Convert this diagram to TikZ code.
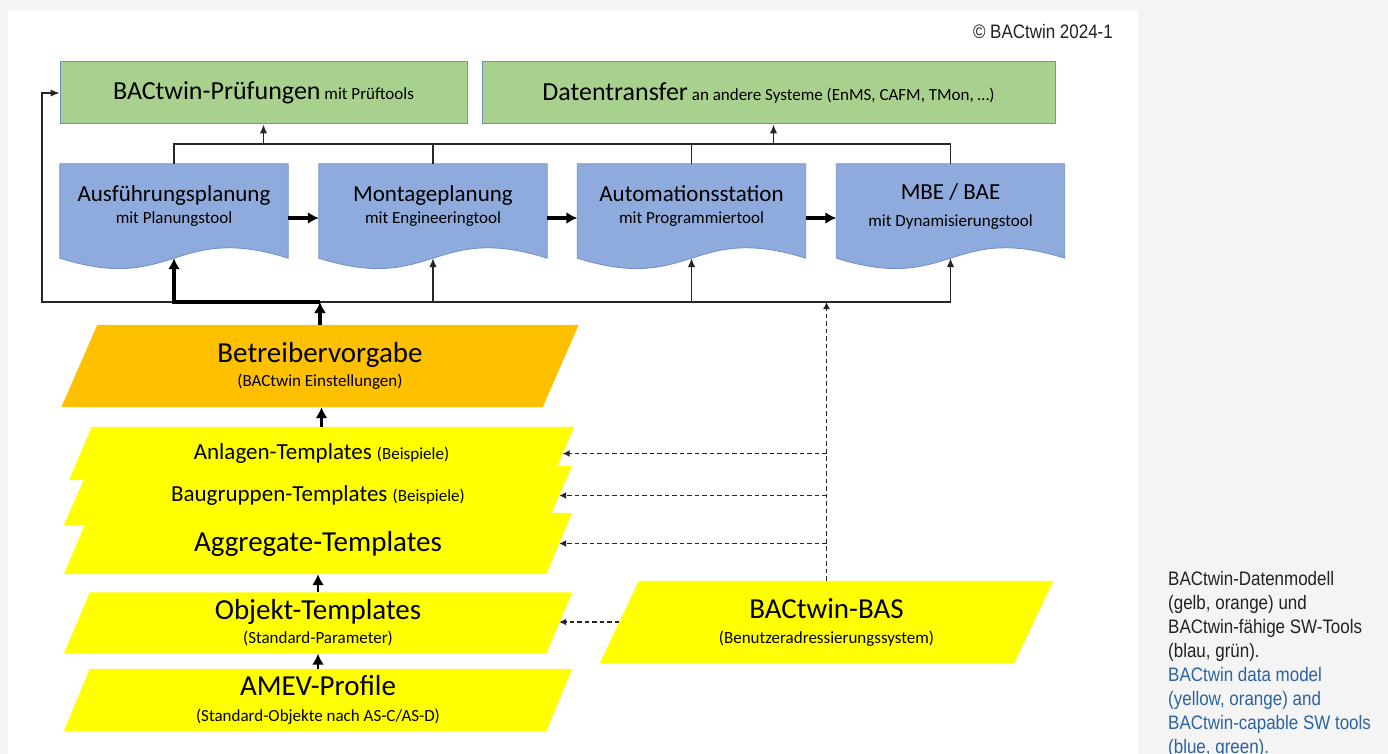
\documentclass[tikz,border=0pt]{standalone}
\usepackage{fontspec}
\setmainfont{Carlito}
\newfontfamily\notefont[FakeStretch=0.87]{Liberation Sans}
\usetikzlibrary{arrows.meta,positioning}

\definecolor{toolgreen}{HTML}{A9D18E}
\definecolor{toolblue}{HTML}{8FAADC}
\definecolor{toolrim}{HTML}{6F8FCB}
\definecolor{modelorange}{HTML}{FFC000}
\definecolor{modelyellow}{HTML}{FFFF00}
\definecolor{pagegray}{HTML}{F4F4F4}
\definecolor{notegray}{HTML}{222222}
\definecolor{noteblue}{HTML}{2B63A3}
\definecolor{wire}{HTML}{262626}

\newcommand{\sizeXL}{\fontsize{29}{32}\selectfont}
\newcommand{\sizeL}{\fontsize{26}{30}\selectfont}
\newcommand{\sizeM}{\fontsize{23}{27}\selectfont}
\newcommand{\sizeS}{\fontsize{17}{20}\selectfont}

\pgfdeclarelayer{paper}
\pgfdeclarelayer{shapes}
\pgfsetlayers{paper,shapes,main}

\tikzset{
  greenbox/.style={draw=toolrim, fill=toolgreen, line width=1pt, inner sep=0pt, font=\sizeS},
  docbox/.style={minimum width=228pt, minimum height=84pt, inner sep=0pt, align=center, font=\sizeM},
  docshape/.style={draw=toolrim, fill=toolblue, line width=0.8pt},
  para/.style={inner sep=0pt, align=center, font=\sizeXL},
  note/.style={inner sep=0pt, font=\notefont\fontsize{19.5}{24}\selectfont, text=notegray},
  wire/.style={draw=wire, line width=1.4pt, >={Latex[length=9pt,width=7.5pt]}},
  heavy/.style={draw=black, line width=3.4pt, >={Latex[length=11pt,width=12pt]}},
  dashwire/.style={wire, line width=1.6pt, dash pattern=on 4.5pt off 3pt, >={Latex[length=7pt,width=7pt]}}
}

\begin{document}
\begin{tikzpicture}[x=1pt, y=-1pt]
    \useasboundingbox (0,0) rectangle (1388,754);
    \clip (0,0) rectangle (1388,754);

    \node[greenbox, minimum width=407pt, minimum height=62pt] (pruef) at (263.5,93) {{\sizeL BACtwin-Prüfungen} mit Prüftools};
    \node[greenbox, minimum width=573pt, minimum height=62pt] (transfer) at (768.5,93) {{\sizeL Datentransfer} an andere Systeme (EnMS, CAFM, TMon, \dots)};

    \node[docbox] (ausf) at (174,206) {Ausführungsplanung\\[-5pt]{\sizeS mit Planungstool}};
    \node[docbox] (montage) at (433,206) {Montageplanung\\[-5pt]{\sizeS mit Engineeringtool}};
    \node[docbox] (autom) at (691.5,206) {Automationsstation\\[-5pt]{\sizeS mit Programmiertool}};
    \node[docbox] (mbe) at (950.5,206) {MBE / BAE\\[0pt]{\sizeS mit Dynamisierungstool}};

    \node[para, minimum width=481pt, minimum height=82pt] (betr) at (320,366) {Betreibervorgabe\\[-8pt]{\sizeS (BACtwin Einstellungen)}};
    \node[para, minimum width=482pt, minimum height=53pt, font=\sizeM] (anlagen) at (321.5,453.5) {Anlagen-Templates {\sizeS (Beispiele)}};
    \node[para, minimum width=482pt, minimum height=59pt, font=\sizeM] (baug) at (318,495.5) {Baugruppen-Templates {\sizeS (Beispiele)}};
    \node[para, minimum width=482pt, minimum height=61pt] (aggr) at (318,543.5) {Aggregate-Templates};
    \node[para, minimum width=482pt, minimum height=61pt] (objekt) at (318,623) {Objekt-Templates\\[-8pt]{\sizeS (Standard-Parameter)}};
    \node[para, minimum width=482pt, minimum height=62pt] (amev) at (318,700) {AMEV-Profile\\[-6pt]{\sizeS (Standard-Objekte nach AS-C/AS-D)}};
    \node[para, minimum width=414pt, minimum height=82pt] (bas) at (826.5,622) {BACtwin-BAS\\[-7pt]{\sizeS (Benutzeradressierungssystem)}};

    \node[note, anchor=east] (copy) at (1113,32) {© BACtwin 2024-1};
    \node[note, anchor=north west, align=left] (caption) at (1168,571) {BACtwin-Datenmodell\\(gelb, orange) und\\BACtwin-fähige SW-Tools\\(blau, grün).\\\textcolor{noteblue}{BACtwin data model}\\\textcolor{noteblue}{(yellow, orange) and}\\\textcolor{noteblue}{BACtwin-capable SW tools}\\\textcolor{noteblue}{(blue, green).}};

    \begin{pgfonlayer}{paper}
        \fill[pagegray] (0,0) rectangle (1388,754);
        \fill[white] (8,10) rectangle (1138,760);
    \end{pgfonlayer}

    \begin{pgfonlayer}{shapes}
        \foreach \d in {ausf,montage,autom,mbe}
            \draw[docshape] (\d.north west) -- (\d.north east) -- ([yshift=-10pt]\d.south east)
                .. controls ([yshift=26pt]\d.south) and ([yshift=-46pt]\d.south) .. ([yshift=-10pt]\d.south west) -- cycle;
        \foreach \p/\s/\c in {betr/18/modelorange, anlagen/11.5/modelyellow, baug/13/modelyellow,
                              aggr/13/modelyellow, objekt/13/modelyellow, amev/13/modelyellow, bas/19.5/modelyellow}
            \fill[\c] ([xshift=\s pt]\p.north west) -- ([xshift=\s pt]\p.north east)
                -- ([xshift=-\s pt]\p.south east) -- ([xshift=-\s pt]\p.south west) -- cycle;
    \end{pgfonlayer}

    \coordinate (topbus) at (0,144);
    \coordinate (lowbus) at (42,302);

    \draw[wire] (ausf.north) |- (mbe.north |- topbus) -- (mbe.north);
    \draw[wire] (montage.north) -- (montage.north |- topbus);
    \draw[wire] (autom.north) -- (autom.north |- topbus);
    \draw[wire,->] (pruef.south |- topbus) -- (pruef.south);
    \draw[wire,->] ([xshift=5pt]transfer.south |- topbus) -- ([xshift=5pt]transfer.south);

    \draw[heavy,->] ([yshift=-12pt]ausf.east) -- ([yshift=-12pt]montage.west);
    \draw[heavy,->] ([yshift=-12pt]montage.east) -- ([yshift=-12pt]autom.west);
    \draw[heavy,->] ([yshift=-12pt]autom.east) -- ([yshift=-12pt]mbe.west);

    \draw[wire,->] (mbe.south |- lowbus) -- (lowbus) |- (pruef.west);
    \draw[wire,->] (mbe.south |- lowbus) -- ([yshift=-10pt]mbe.south);
    \draw[wire,->] (autom.south |- lowbus) -- ([yshift=-10pt]autom.south);
    \draw[wire,->] (montage.south |- lowbus) -- ([yshift=-10pt]montage.south);
    \draw[heavy,->] (betr.north) -- (betr.north |- lowbus);
    \draw[heavy,->] (betr.north |- lowbus) -| ([yshift=-10pt]ausf.south);

    \draw[heavy,->,line width=2.6pt] (anlagen.north) -- (anlagen.north |- betr.south);
    \draw[heavy,->,line width=2.6pt] (objekt.north) -- (objekt.north |- aggr.south);
    \draw[heavy,->,line width=2.6pt] (amev.north) -- (amev.north |- objekt.south);

    \draw[dashwire,->] (bas.north) -- (bas.north |- lowbus);
    \draw[dashwire,->] (bas.north |- anlagen.east) -- (anlagen.east);
    \draw[dashwire,->] (bas.north |- baug.east) -- (baug.east);
    \draw[dashwire,->] (bas.north |- aggr.east) -- (aggr.east);
    \draw[dashwire,->] (bas.west) -- (objekt.east |- bas.west);
\end{tikzpicture}
\end{document}
